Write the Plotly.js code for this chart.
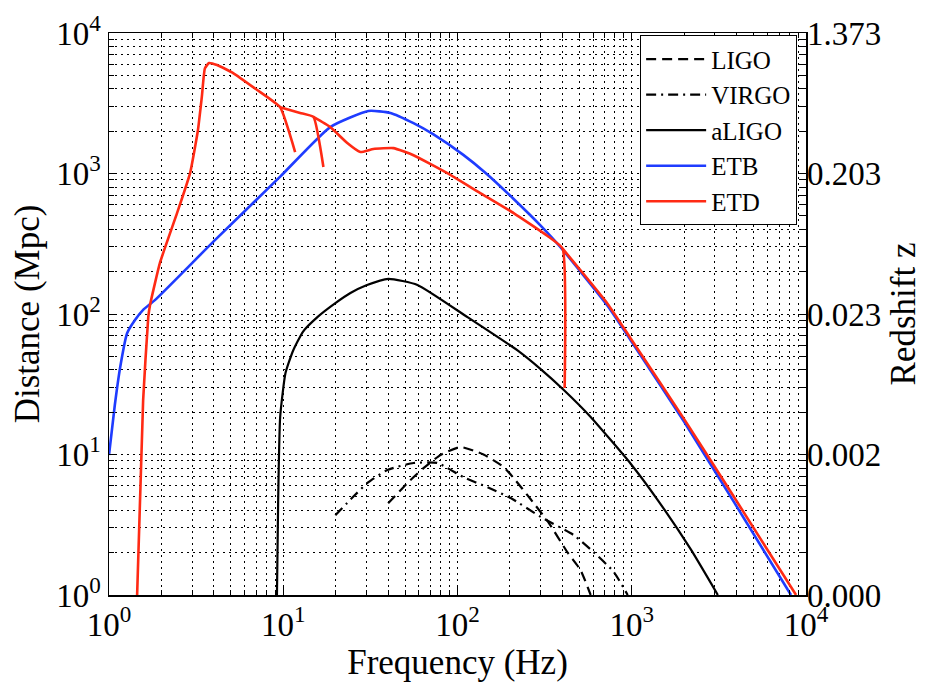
<!DOCTYPE html>
<html>
<head>
<meta charset="utf-8">
<script src="https://cdn.plot.ly/plotly-3.0.1.min.js"></script>
<style>html,body{margin:0;padding:0;background:#fff;}#chart{width:929px;height:685px;}</style>
</head>
<body>
<div id="chart"></div>
<script>
// ---- data (frequency in Hz, distance in Mpc) ----
var ligoFreq  = [40, 51.6, 63.8, 79.8, 104, 141, 184, 210, 263, 332, 429, 509, 581];
var ligoDist  = [4.5, 6.27, 8.0, 9.9, 11.3, 10.0, 8.15, 6.8, 4.8, 3.3, 2.0, 1.5, 1.0];

var virgoFreq = [19.9, 25.2, 30.4, 39.6, 55.9, 76.7, 108, 151, 202, 300, 464, 604, 788, 948];
var virgoDist = [3.7, 5.0, 6.27, 7.76, 8.7, 8.7, 6.9, 5.8, 4.9, 3.6, 2.67, 2.02, 1.46, 1.0];

var aligoFreq = [9.2, 9.35, 9.6, 10.3, 11.4, 13.0, 15.7, 20, 24.3, 30, 40.1, 58.9, 114, 221, 300, 406, 581, 986, 1400, 2183, 3120];
var aligoDist = [1.0, 4.7, 18.5, 38, 55, 75, 95, 120, 141, 160, 178, 161, 95, 55, 40.5, 28.9, 18.5, 8.6, 4.8, 2.11, 1.0];

var etbFreq = [1.0, 1.08, 1.16, 1.27, 1.41, 1.57, 1.84, 4.0, 9.6, 18.6, 30.8, 41.2, 55.9, 72.8, 108, 145, 210, 300, 390, 728, 986, 1990, 3856, 8200];
var etbDist = [9.9, 22.5, 42, 73, 90.7, 107, 126, 330, 950, 2140, 2786, 2700, 2282, 1897, 1357, 1009, 659, 426, 299, 114, 65, 17.2, 4.6, 1.0];

// ETD drawn as one polyline with gaps (null) separating the short drop-off segments
var etdFreq = [1.45, 1.57, 1.68, 1.72, 1.96, 2.46, 2.92, 3.24, 3.41, 3.55, 3.75, 4.17, 5.16, 7.08, 9.6, 11.7,
               null,
               9.6, 12.5, 14.9, 17.0,
               null,
               14.9, 18.6, 23.3, 27.7, 32.9, 42.9, 55.9, 87.4, 135, 210, 329, 401, 412,
               null,
               401, 728, 986, 1990, 3856, 8770];
var etdDist = [1.0, 24.4, 95, 116, 231, 524, 1007, 2040, 3510, 5600, 6115, 5920, 5190, 3930, 2960, 1422,
               null,
               2960, 2700, 2525, 1112,
               null,
               2525, 2140, 1648, 1422, 1494, 1515, 1350, 1006, 726, 523, 359, 292, 29.7,
               null,
               292, 118, 67, 18, 5.0, 1.0];

// axis labels
var distTickVals = [1, 10, 100, 1000, 10000];
var distTickText = ['10<sup>0</sup>', '10<sup>1</sup>', '10<sup>2</sup>', '10<sup>3</sup>', '10<sup>4</sup>'];
var freqTickVals = [1, 10, 100, 1000, 10000];
var freqTickText = ['10<sup>0</sup>', '10<sup>1</sup>', '10<sup>2</sup>', '10<sup>3</sup>', '10<sup>4</sup>'];
var zTickText = ['0.000', '0.002', '0.023', '0.203', '1.373'];

var minorVals = [];
for (var e = 0; e < 4; e++) { for (var d = 2; d <= 9; d++) { minorVals.push(d * Math.pow(10, e)); } }

var FONT = '"Liberation Serif", "Times New Roman", Times, serif';

var traces = [
  {x: ligoFreq, y: ligoDist, name: 'LIGO', mode: 'lines', line: {color: '#000', width: 2.2, dash: '10px,6px', shape: 'spline', smoothing: 0.5}},
  {x: virgoFreq, y: virgoDist, name: 'VIRGO', mode: 'lines', line: {color: '#000', width: 2.2, dash: '10px,5px,2px,5px', shape: 'spline', smoothing: 0.5}},
  {x: aligoFreq, y: aligoDist, name: 'aLIGO', mode: 'lines', line: {color: '#000', width: 2.2, shape: 'spline', smoothing: 0.5}},
  {x: etbFreq, y: etbDist, name: 'ETB', mode: 'lines', line: {color: '#1f3cff', width: 2.6, shape: 'spline', smoothing: 0.5}},
  {x: etdFreq, y: etdDist, name: 'ETD', mode: 'lines', connectgaps: false, line: {color: '#ff2a14', width: 2.6, shape: 'spline', smoothing: 0.4}}
];

var gridCommon = {
  type: 'log', range: [0, 4],
  showline: true, linecolor: '#000', linewidth: 1.5, mirror: 'ticks',
  ticks: 'inside', ticklen: 8, tickcolor: '#000', tickwidth: 1,
  showgrid: true, gridcolor: '#000', gridwidth: 1, griddash: '2px,4px',
  zeroline: false,
  tickmode: 'array',
  tickfont: {family: FONT, size: 33, color: '#000'},
  minor: {tickmode: 'array', tickvals: minorVals, ticks: 'inside', ticklen: 5, tickcolor: '#000',
          showgrid: true, gridcolor: '#000', gridwidth: 1, griddash: '2px,4px'}
};

var xaxis = Object.assign({}, gridCommon, {
  tickvals: freqTickVals, ticktext: freqTickText,
  title: {text: 'Frequency (Hz)', font: {family: FONT, size: 35, color: '#000'}, standoff: 6}
});
var yaxis = Object.assign({}, gridCommon, {
  tickvals: distTickVals, ticktext: distTickText,
  title: {text: 'Distance (Mpc)', font: {family: FONT, size: 35, color: '#000'}, standoff: 6}
});

var layout = {
  width: 929, height: 685,
  margin: {l: 109, r: 123, t: 33, b: 90},
  paper_bgcolor: '#fff', plot_bgcolor: '#fff',
  font: {family: FONT, color: '#000'},
  showlegend: true,
  legend: {x: 0.987, y: 0.996, xanchor: 'right', yanchor: 'top',
           bgcolor: '#fff', bordercolor: '#000', borderwidth: 1.2,
           font: {family: FONT, size: 25, color: '#000'}, tracegroupgap: 0, itemwidth: 60},
  xaxis: xaxis,
  yaxis: yaxis,
  yaxis2: {
    type: 'log', range: [0, 4], overlaying: 'y', side: 'right', anchor: 'x',
    tickmode: 'array', tickvals: distTickVals, ticktext: zTickText,
    ticks: 'inside', ticklen: 8, tickcolor: '#000',
    showgrid: false, showline: false, zeroline: false,
    tickfont: {family: FONT, size: 33, color: '#000'},
    title: {text: 'Redshift z', font: {family: FONT, size: 35, color: '#000'}, standoff: 10}
  }
};

// invisible helper trace so the redshift axis is drawn
traces.push({x: [1, 10000], y: [1, 10000], yaxis: 'y2', mode: 'lines', line: {width: 0}, opacity: 0, showlegend: false, hoverinfo: 'skip'});

Plotly.newPlot('chart', traces, layout, {staticPlot: true});
</script>
</body>
</html>
